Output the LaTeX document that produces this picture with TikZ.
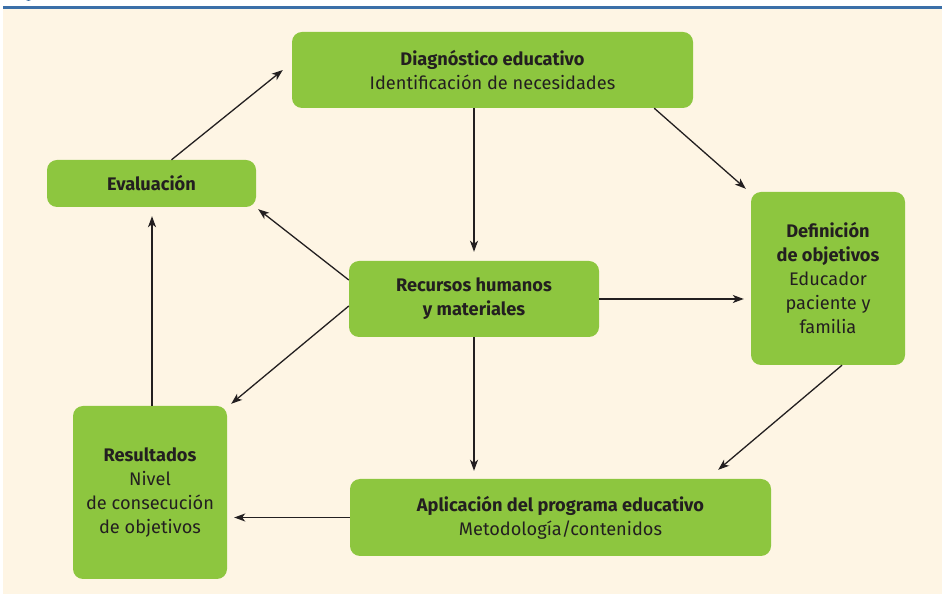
\documentclass[tikz,border=0pt]{standalone}
\usepackage{fontspec}
\setmainfont{Fira Sans}
\usetikzlibrary{arrows.meta,calc}
\definecolor{cream}{HTML}{FEF5E4}
\definecolor{boxgreen}{HTML}{8DC63F}
\definecolor{ink}{HTML}{231F20}
\definecolor{rule}{HTML}{3B6FA8}
\tikzset{
  box/.style={fill=boxgreen, rounded corners=10pt, inner sep=0pt, align=center,
    text=ink, font=\fontsize{18.2}{24}\selectfont},
  conn/.style={draw=ink, line width=1.3pt, -{Stealth[length=11pt,width=8pt,inset=3pt]}},
}
\begin{document}
\begin{tikzpicture}[x=1pt,y=1pt]
\useasboundingbox (0,0) rectangle (942,594);
\fill[white] (0,0) rectangle (942,594);
\fill[cream] (3,0) rectangle (942,585);
\fill[rule] (3,585) rectangle (942,587.5);
\fill[rule] (28.5,597) ellipse (4 and 4);

\node[box, minimum width=401pt, minimum height=76pt] (diag) at (492.5,524)
  {\textbf{Diagnóstico educativo}\\Identificación de necesidades};
\node[box, minimum width=209pt, minimum height=47pt] (eval) at (151.5,410.5)
  {\textbf{Evaluación}};
\node[box, minimum width=154pt, minimum height=173pt] (def) at (828,315.5)
  {\textbf{Definición}\\\textbf{de objetivos}\\Educador\\paciente y\\familia};
\node[box, minimum width=154pt, minimum height=173pt] (res) at (150,101.5)
  {\textbf{Resultados}\\Nivel\\de consecución\\de objetivos};
\node[box, minimum width=421pt, minimum height=77pt] (apl) at (560.5,76.5)
  {\textbf{Aplicación del programa educativo}\\Metodología/contenidos};
\node[box, minimum width=250pt, minimum height=76pt] (rec) at (474,295)
  {\textbf{Recursos humanos}\\\textbf{y materiales}};

\draw[conn] ([xshift=20pt]eval.north) -- ([xshift=-9pt]diag.west);
\draw[conn] (rec.north |- diag.south) -- ([yshift=9pt]rec.north);
\draw[conn] ([xshift=-39pt]diag.south east) -- ([shift={(-5pt,3pt)}]def.north west);
\draw[conn] ([yshift=19pt]rec.west) -- ([shift={(2pt,-2pt)}]eval.south east);
\draw[conn] (rec.east) -- ([xshift=-7pt]rec.east -| def.west);
\draw[conn] ([yshift=-7pt]rec.west) -- ([shift={(4pt,2pt)}]res.north east);
\draw[conn] (rec.south) -- ([yshift=8pt]rec.south |- apl.north);
\draw[conn] ([xshift=14pt]def.south) -- ([shift={(-53pt,9pt)}]apl.north east);
\draw[conn] (apl.west) -- ([xshift=7pt]apl.west -| res.east);
\draw[conn] ([xshift=2pt]res.north) -- ([shift={(2pt,-9pt)}]res.north |- eval.south);
\end{tikzpicture}
\end{document}
